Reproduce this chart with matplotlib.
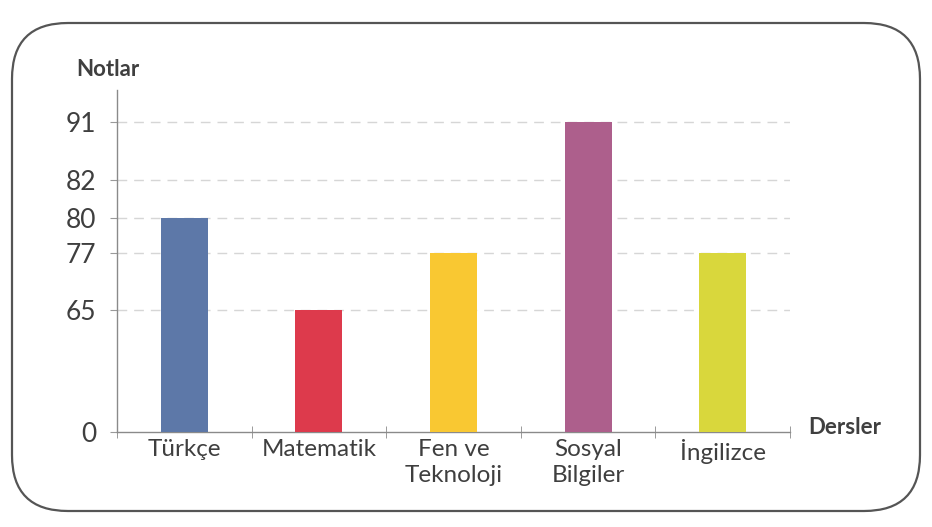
import numpy as np
import matplotlib
matplotlib.use('Agg')
import matplotlib.pyplot as plt
from matplotlib.patches import FancyBboxPatch

# data
subjects = ['Türkçe', 'Matematik', 'Fen ve\nTeknoloji', 'Sosyal\nBilgiler', 'İngilizce']
grades = [80, 65, 77, 91, 77]
y_ticks = [0, 65, 77, 80, 82, 91]
bar_colors = ['#5d78a8', '#dd3a4c', '#f9c832', '#ad5f8c', '#d9d73c']

# the value axis in the original is not linear: map values to drawn heights
scale_vals = [0, 65, 77, 80, 82, 91, 96]
scale_pos = [0, 122, 179, 214, 252, 310, 342]


def forward(v):
    return np.interp(v, scale_vals, scale_pos)


def inverse(p):
    return np.interp(p, scale_pos, scale_vals)


plt.rcParams['font.family'] = ['Lato', 'DejaVu Sans']
text_color = '#3f3f3f'

fig = plt.figure(figsize=(9.32, 5.27), dpi=100)

# rounded frame around the chart
frame = FancyBboxPatch((12 / 932, 16 / 527), 908 / 932, 488 / 527,
                       boxstyle='round,pad=0,rounding_size=0.06',
                       transform=fig.transFigure, fill=False,
                       edgecolor='#555555', linewidth=1.6,
                       mutation_aspect=932 / 527)
fig.patches.append(frame)

ax = fig.add_axes([117 / 932, 1 - 432 / 527, (790 - 117) / 932, (432 - 90) / 527])
ax.set_yscale('function', functions=(forward, inverse))
ax.set_ylim(0, 96)
ax.set_xlim(-0.5, len(subjects) - 0.5)

x = np.arange(len(subjects))
ax.bar(x, grades, width=0.35, color=bar_colors, zorder=3)

# dashed guide lines
for t in y_ticks[1:]:
    ax.axhline(t, color='#d6d6d6', linestyle=(0, (7, 5)), linewidth=1.0, zorder=1)

for side in ['top', 'right']:
    ax.spines[side].set_visible(False)
for side in ['left', 'bottom']:
    ax.spines[side].set_color('#8a8a8a')
    ax.spines[side].set_linewidth(1.0)

ax.set_yticks(y_ticks)
ax.set_yticklabels([str(t) for t in y_ticks])
ax.tick_params(axis='y', length=5, color='#9a9a9a', pad=10,
               labelsize=19, labelcolor=text_color)

ax.set_xticks(x)
ax.set_xticklabels(subjects, linespacing=1.3)
ax.tick_params(axis='x', length=0, pad=5, labelsize=17.5, labelcolor=text_color)
ax.set_xticks(np.arange(len(subjects) + 1) - 0.5, minor=True)
ax.tick_params(axis='x', which='minor', direction='inout', length=9,
               color='#8a8a8a')

fig.text(108 / 932, 1 - 70 / 527, 'Notlar', fontsize=16, fontweight='bold',
         color=text_color, ha='center', va='center')
fig.text(808 / 932, 1 - 428 / 527, 'Dersler', fontsize=16, fontweight='bold',
         color=text_color, ha='left', va='center')

plt.savefig('out.png', dpi=100)
plt.close()
